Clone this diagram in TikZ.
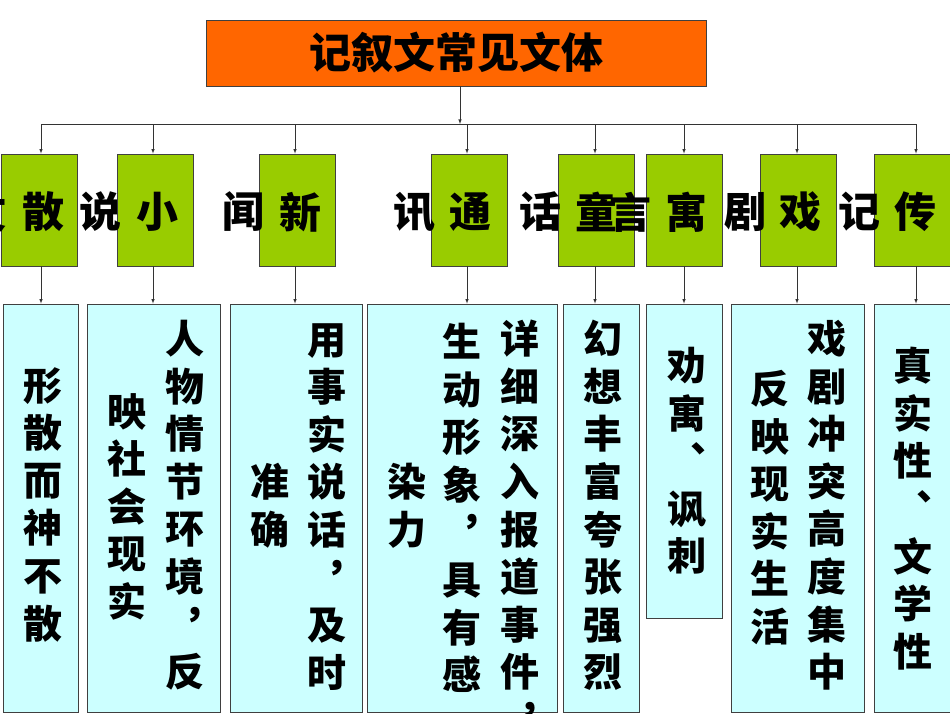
\documentclass[tikz,border=0pt]{standalone}
\usepackage{fontspec}
\newfontfamily\cjk{Noto Sans CJK SC}
\definecolor{org}{HTML}{FF6600}
\definecolor{grn}{HTML}{99CC00}
\definecolor{cyn}{HTML}{CCFFFF}
\begin{document}
\begin{tikzpicture}[x=1pt,y=-1pt,
  box/.style={draw=black!75,line width=0.8pt,inner sep=0},
  gbox/.style={box,fill=grn,minimum width=76pt,minimum height=112pt},
  cbox/.style={box,fill=cyn},
  ch/.style={font=\cjk\bfseries\fontsize{42}{42}\selectfont,inner sep=0},
  vt/.style={font=\cjk\bfseries\fontsize{39}{47.6}\selectfont,inner sep=0,align=center,anchor=north},
  arr/.style={-latex,line width=0.6pt,black!80}]
\useasboundingbox (0,0) rectangle (950,713);
\node[box,fill=org,minimum width=500pt,minimum height=66pt,font=\cjk\bfseries\fontsize{42}{42}\selectfont] (t) at (456,53) {记叙文常见文体};
% green boxes
\foreach \n/\x in {1/39,2/155,3/297,4/469,5/596,6/684,7/798,8/912}
  \node[gbox] (g\n) at (\x,210) {};
% green texts
\foreach \a/\xa/\b/\xb in {散/43/文/-14,小/157/说/100,新/300/闻/243,通/470/讯/414,童/596/话/540,寓/686/言/630,戏/800/剧/745,传/915/记/859}{
  \node[ch] at (\xa,212) {\a};
  \node[ch] at (\xb,212) {\b};
}
% cyan boxes
\node[cbox,minimum width=75pt,minimum height=408pt] (b1) at (40.5,508) {};
\node[cbox,minimum width=133pt,minimum height=408pt] (b2) at (153.5,508) {};
\node[cbox,minimum width=132pt,minimum height=408pt] (b3) at (296,508) {};
\node[cbox,minimum width=190pt,minimum height=408pt] (b4) at (462,508) {};
\node[cbox,minimum width=76pt,minimum height=408pt] (b5) at (601,508) {};
\node[cbox,minimum width=76pt,minimum height=314pt] (b6) at (684,461) {};
\node[cbox,minimum width=133pt,minimum height=408pt] (b7) at (797.5,508) {};
\node[cbox,minimum width=76pt,minimum height=408pt] (b8) at (912,508) {};
% vertical texts
\node[vt] at (43,367) {形\\散\\而\\神\\不\\散};
\node[vt] at (185,320) {人\\物\\情\\节\\环\\境\\︐\\反};
\node[vt] at (127,393) {映\\社\\会\\现\\实};
\node[vt] at (327,323) {用\\事\\实\\说\\话\\︐\\及\\时};
\node[vt] at (270,463) {准\\确};
\node[vt] at (520,320) {详\\细\\深\\入\\报\\道\\事\\件\\︐};
\node[vt] at (462,323) {生\\动\\形\\象\\︐\\具\\有\\感};
\node[vt] at (407,463) {染\\力};
\node[vt] at (603,320) {幻\\想\\丰\\富\\夸\\张\\强\\烈};
\node[vt] at (687,347) {劝\\寓\\︑\\讽\\刺};
\node[vt] at (827,320) {戏\\剧\\冲\\突\\高\\度\\集\\中};
\node[vt] at (770,370) {反\\映\\现\\实\\生\\活};
\node[vt] at (913,347) {真\\实\\性\\︑\\文\\学\\性};
% connectors
\coordinate (bl) at (41,124);
\coordinate (br) at (916,124);
\draw[line width=0.6pt,black!80] (bl) -- (br);
\draw[arr] (t.south -| 460,0) -- (460,124);
\foreach \n/\x in {1/41,2/153,3/295,4/467,5/595,6/684,7/797,8/916}{
  \draw[arr] (\x,124) -- (g\n.north -| \x,0);
  \draw[arr] (g\n.south -| \x,0) -- (b\n.north -| \x,0);
}
\end{tikzpicture}
\end{document}
